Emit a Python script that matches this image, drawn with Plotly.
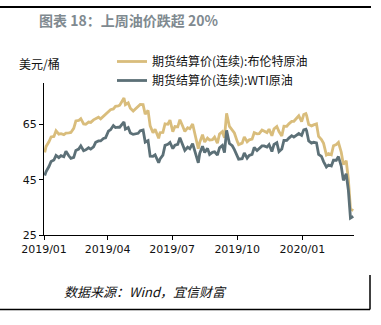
import plotly.graph_objects as go

dates = [
    "2019-01-02","2019-01-04","2019-01-08","2019-01-11","2019-01-15","2019-01-18","2019-01-22","2019-01-25","2019-01-29",
    "2019-02-01","2019-02-05","2019-02-08","2019-02-12","2019-02-15","2019-02-19","2019-02-22","2019-02-26",
    "2019-03-01","2019-03-05","2019-03-08","2019-03-12","2019-03-15","2019-03-19","2019-03-22","2019-03-26","2019-03-29",
    "2019-04-02","2019-04-05","2019-04-09","2019-04-12","2019-04-16","2019-04-18","2019-04-24","2019-04-26","2019-04-30",
    "2019-05-03","2019-05-07","2019-05-10","2019-05-14","2019-05-17","2019-05-21","2019-05-24","2019-05-28","2019-05-31",
    "2019-06-04","2019-06-07","2019-06-12","2019-06-14","2019-06-18","2019-06-21","2019-06-25","2019-06-28",
    "2019-07-02","2019-07-05","2019-07-09","2019-07-12","2019-07-16","2019-07-19","2019-07-23","2019-07-26","2019-07-30",
    "2019-08-02","2019-08-07","2019-08-09","2019-08-13","2019-08-16","2019-08-20","2019-08-23","2019-08-27","2019-08-30",
    "2019-09-03","2019-09-06","2019-09-10","2019-09-13","2019-09-16","2019-09-20","2019-09-24","2019-09-27",
    "2019-10-01","2019-10-03","2019-10-08","2019-10-11","2019-10-15","2019-10-18","2019-10-22","2019-10-25","2019-10-29",
    "2019-11-01","2019-11-05","2019-11-08","2019-11-12","2019-11-15","2019-11-19","2019-11-22","2019-11-26","2019-11-29",
    "2019-12-03","2019-12-06","2019-12-10","2019-12-13","2019-12-17","2019-12-20","2019-12-24","2019-12-27","2019-12-31",
    "2020-01-03","2020-01-06","2020-01-07","2020-01-10","2020-01-14","2020-01-17","2020-01-21","2020-01-24","2020-01-28",
    "2020-01-31","2020-02-04","2020-02-07","2020-02-11","2020-02-14","2020-02-18","2020-02-21","2020-02-25","2020-02-28",
    "2020-03-03","2020-03-06","2020-03-09","2020-03-13",
]

brent = [
    54.91,57.06,58.72,60.48,60.64,62.70,61.50,61.64,61.32,
    61.89,61.98,62.10,63.61,66.25,66.45,67.12,65.21,
    65.07,65.86,65.74,66.67,67.16,67.61,67.03,67.97,68.39,
    69.37,70.34,70.61,71.55,71.72,71.97,74.57,72.15,72.80,
    70.85,69.88,70.62,71.24,72.21,72.18,68.69,70.11,64.49,
    61.97,63.29,59.97,62.01,62.14,65.20,65.05,66.55,
    62.40,64.23,64.16,66.72,64.35,62.47,63.83,63.46,65.17,
    61.89,56.23,58.53,61.30,58.64,60.03,59.34,59.51,60.43,
    58.26,61.54,62.38,60.22,69.02,64.28,63.10,61.91,
    58.89,57.71,58.24,60.51,58.74,59.42,59.70,62.02,61.59,
    61.69,62.96,62.51,62.06,63.30,60.91,63.39,64.27,62.43,
    60.82,64.39,64.34,65.22,66.10,66.14,67.20,68.16,66.00,
    68.60,68.91,68.27,64.98,64.49,64.85,65.20,60.69,59.51,
    58.16,53.96,54.47,54.01,57.32,57.75,58.50,54.95,50.52,
    51.86,45.27,34.36,33.85,
]

wti = [
    46.54,47.96,49.78,51.59,52.11,53.80,53.01,53.69,53.31,
    55.26,53.66,52.72,53.10,55.59,56.09,57.26,55.50,
    55.80,56.56,56.07,56.87,58.52,59.03,59.04,59.94,60.14,
    62.58,63.08,64.61,63.89,64.05,64.00,65.89,63.30,63.91,
    61.94,61.40,61.66,61.78,62.76,62.99,58.63,59.14,53.50,
    53.48,53.99,51.14,52.51,53.90,57.43,57.83,58.47,
    56.25,57.51,57.83,60.21,57.62,55.63,56.77,56.20,58.05,
    55.66,51.09,54.50,57.10,54.87,56.34,54.17,54.93,55.10,
    53.94,56.52,57.40,54.85,62.90,58.09,57.29,55.91,
    53.62,52.45,52.63,54.70,52.81,53.78,54.16,56.66,55.54,
    56.20,57.23,57.24,56.80,57.72,55.21,57.77,58.41,55.17,
    56.10,59.20,59.24,60.07,60.94,60.44,61.11,61.72,61.06,
    63.05,63.27,62.70,59.04,58.23,58.54,58.34,54.19,53.48,
    51.56,49.61,50.32,49.94,52.05,52.05,53.38,49.90,44.76,
    47.18,41.28,31.13,31.73,
]

series_names = ["期货结算价(连续):布伦特原油", "期货结算价(连续):WTI原油"]
x_tickvals = ["2019-01-01","2019-04-01","2019-07-01","2019-10-01","2020-01-01"]
x_ticktext = ["2019/01","2019/04","2019/07","2019/10","2020/01"]
y_tickvals = [25, 45, 65]

FONT = "DejaVu Sans, Noto Sans CJK SC, sans-serif"
CJK = "Noto Sans CJK SC, DejaVu Sans, sans-serif"

fig = go.Figure()
fig.add_trace(go.Scatter(x=dates, y=brent, mode="lines", name=series_names[0],
                         line=dict(color="#D9BD7C", width=2.8)))
fig.add_trace(go.Scatter(x=dates, y=wti, mode="lines", name=series_names[1],
                         line=dict(color="#5C7077", width=2.8)))

L, R, T, B = 44, 27, 83, 90
W, H = 381, 325
pw, ph = W - L - R, H - T - B

def px(x):
    return (x - L) / pw

def py(y):
    return (H - B - y) / ph

shapes = [
    dict(type="line", xref="paper", yref="paper", x0=px(0), x1=px(371), y0=py(7), y1=py(7),
         line=dict(color="black", width=2)),
    dict(type="line", xref="paper", yref="paper", x0=px(0), x1=px(370), y0=py(309.5), y1=py(309.5),
         line=dict(color="black", width=1.5)),
    dict(type="line", xref="paper", yref="paper", x0=px(370), x1=px(370), y0=py(275), y1=py(309.5),
         line=dict(color="black", width=1.5)),
]

annotations = [
    dict(text="<b>图表 18：上周油价跌超 20%</b>", xref="paper", yref="paper", x=px(37), y=py(20),
         xanchor="left", yanchor="middle", showarrow=False, font=dict(family=CJK, size=14, color="#7F8A90")),
    dict(text="美元/桶", xref="paper", yref="paper", x=px(17), y=py(63), xanchor="left", yanchor="middle",
         showarrow=False, font=dict(family=CJK, size=12, color="#111111")),
    dict(text="<i>数据来源：Wind，宜信财富</i>", xref="paper", yref="paper", x=px(62), y=py(291),
         xanchor="left", yanchor="middle", showarrow=False, font=dict(family=CJK, size=13, color="#111111")),
]

fig.update_layout(
    width=W, height=H,
    margin=dict(l=L, r=R, t=T, b=B, pad=0),
    paper_bgcolor="white", plot_bgcolor="white",
    font=dict(family=FONT, size=11, color="#111111"),
    showlegend=True,
    legend=dict(x=px(112), y=py(47), xanchor="left", yanchor="top", bgcolor="rgba(0,0,0,0)",
                font=dict(family=CJK, size=12, color="#111111"), itemwidth=30,
                tracegroupgap=0),
    shapes=shapes,
    annotations=annotations,
)

fig.update_xaxes(type="date", range=["2019-01-01", "2020-03-14"], tickvals=x_tickvals, ticktext=x_ticktext,
                 showgrid=False, zeroline=False, showline=True, linecolor="black", linewidth=1,
                 ticks="outside", ticklen=4, tickcolor="black", tickfont=dict(family=FONT, size=11))
fig.update_yaxes(range=[25, 80], tickvals=y_tickvals, showgrid=False, zeroline=False, showline=True,
                 linecolor="black", linewidth=1, ticks="outside", ticklen=4, tickcolor="black",
                 tickfont=dict(family=FONT, size=11))

fig.write_html("out.html")
